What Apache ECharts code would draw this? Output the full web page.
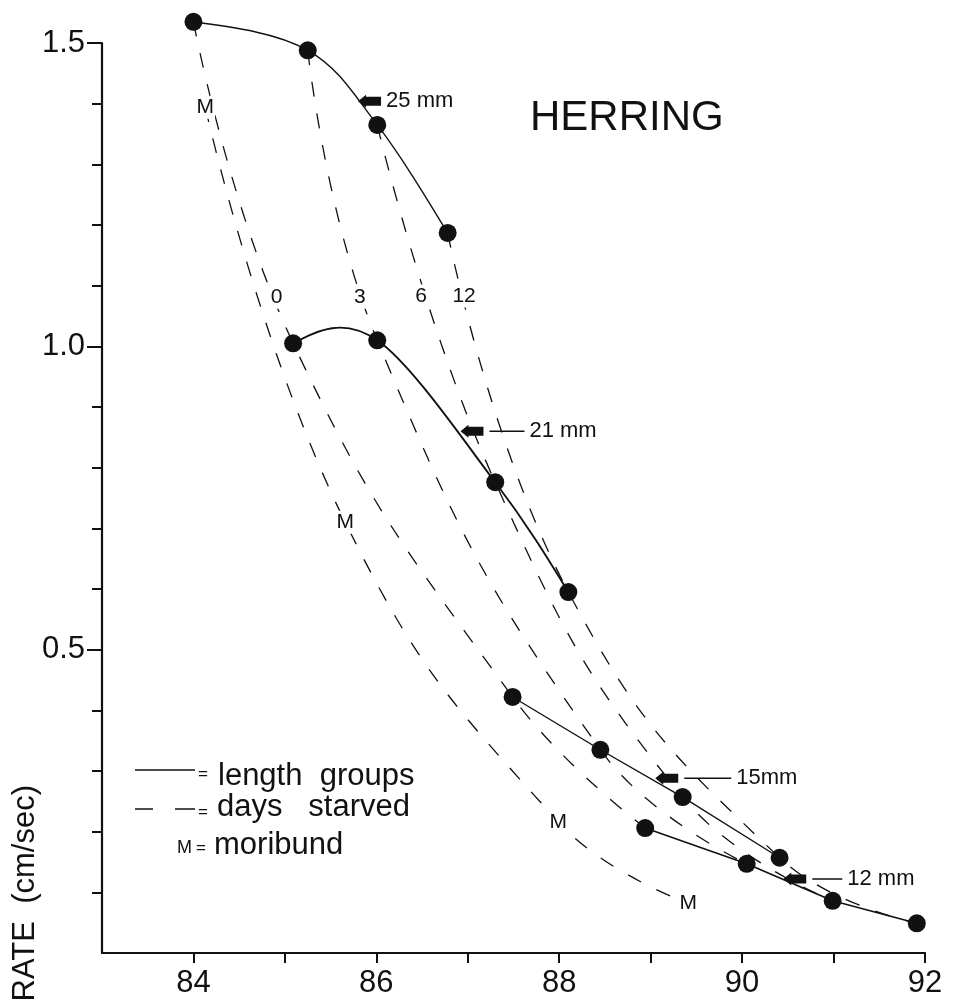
<!DOCTYPE html>
<html>
<head>
<meta charset="utf-8">
<script src="https://cdn.jsdelivr.net/npm/echarts@6/dist/echarts.min.js"></script>
<style>
  html, body { margin: 0; padding: 0; background: #fff; }
  #chart { width: 956px; height: 1002px; }
</style>
</head>
<body>
<div id="chart"></div>
<script>
// Swimming rate of starved herring larvae against water content (%).
// Each length group: points after 0, 3, 6 and 12 days of starvation.
const lengthLabels = ['25 mm', '21 mm', '15mm', '12 mm'];
const dayLabels = ['0', '3', '6', '12'];

const water25 = [84.00, 85.25, 86.01, 86.78];
const rate25  = [1.535, 1.488, 1.365, 1.187];
const water21 = [85.09, 86.01, 87.30, 88.10];
const rate21  = [1.005, 1.010, 0.776, 0.595];
const water15 = [87.49, 88.45, 89.35, 90.41];
const rate15  = [0.422, 0.335, 0.257, 0.157];
const water12 = [88.94, 90.05, 90.99, 91.91];
const rate12  = [0.206, 0.147, 0.086, 0.049];

// moribund fish of each length group (25, 21, 15, 12 mm)
const waterM = [84.13, 85.66, 87.99, 89.41];
const rateM  = [1.394, 0.710, 0.216, 0.082];

// where the length-group arrows point, and where the day numbers sit
const arrowWater = [85.80, 86.92, 89.05, 90.45];
const arrowRate  = [1.404, 0.860, 0.288, 0.122];
const dayTagWater = [84.91, 85.82, 86.49, 86.96];
const dayTagRate  = [1.081, 1.081, 1.083, 1.083];

const xTicks = [84, 85, 86, 87, 88, 89, 90, 91, 92];
const xTickLabels = [84, 86, 88, 90, 92];
const yTickLabels = [0.5, 1.0, 1.5];

const FONT = "'Liberation Sans', Arial, sans-serif";
const INK = '#111';

const groups = [
  [water25, rate25], [water21, rate21], [water15, rate15], [water12, rate12]
];
const zip = (xs, ys) => xs.map((x, i) => [x, ys[i]]);

// cubic spline (Catmull-Rom inside, natural ends) through pixel points
function splineSegments(p, curved) {
  const n = p.length;
  if (!curved || n < 3) {
    return p.slice(1).map((q, i) => [p[i], p[i], q, q]);
  }
  const m = p.map(() => [0, 0]);
  for (let i = 1; i < n - 1; i++) {
    m[i] = [(p[i + 1][0] - p[i - 1][0]) / 2, (p[i + 1][1] - p[i - 1][1]) / 2];
  }
  m[0] = [(3 * (p[1][0] - p[0][0]) - m[1][0]) / 2, (3 * (p[1][1] - p[0][1]) - m[1][1]) / 2];
  const a = n - 1, b = n - 2;
  m[a] = [(3 * (p[a][0] - p[b][0]) - m[b][0]) / 2, (3 * (p[a][1] - p[b][1]) - m[b][1]) / 2];
  const segs = [];
  for (let i = 0; i < n - 1; i++) {
    segs.push([
      p[i],
      [p[i][0] + m[i][0] / 3, p[i][1] + m[i][1] / 3],
      [p[i + 1][0] - m[i + 1][0] / 3, p[i + 1][1] - m[i + 1][1] / 3],
      p[i + 1]
    ]);
  }
  return segs;
}

const series = [];

// dashed curves: one per starvation period, across length groups
dayLabels.forEach((d, i) => {
  series.push({
    type: 'line', name: 'day ' + d, clip: false, smooth: 0.45,
    symbol: 'none', silent: true, z: 2,
    lineStyle: { color: INK, width: 1.3, type: [15, 17] },
    data: groups.map(g => [g[0][i], g[1][i]])
  });
});

// moribund curve
series.push({
  type: 'line', name: 'moribund', clip: false, smooth: 0.45,
  symbol: 'none', silent: true, z: 2,
  lineStyle: { color: INK, width: 1.3, type: [15, 17] },
  data: zip(waterM, rateM)
});
series.push({
  type: 'scatter', name: 'M', clip: false, symbolSize: 1, z: 4,
  itemStyle: { color: 'rgba(0,0,0,0)', opacity: 1 },
  label: {
    show: true, position: 'inside', formatter: 'M', color: INK, opacity: 1,
    fontFamily: FONT, fontSize: 21, backgroundColor: '#fff', padding: [1, 1]
  },
  data: zip(waterM, rateM)
});

// day numbers
series.push({
  type: 'scatter', name: 'days', clip: false, symbolSize: 1, z: 4,
  itemStyle: { color: 'rgba(0,0,0,0)', opacity: 1 },
  label: {
    show: true, position: 'inside', formatter: '{b}', color: INK, opacity: 1,
    fontFamily: FONT, fontSize: 21, backgroundColor: '#fff', padding: [1, 2]
  },
  data: dayLabels.map((d, i) => ({ name: d, value: [dayTagWater[i], dayTagRate[i]] }))
});

// solid curves (one per length group) and their points
const curved = [true, true, false, false];
const widths = [1.4, 1.9, 1.4, 1.6];
groups.forEach((g, gi) => {
  series.push({
    type: 'custom', name: lengthLabels[gi] + ' curve', clip: false, silent: true, z: 4,
    encode: { x: 0, y: 1 },
    data: zip(g[0], g[1]),
    renderItem: (params, api) => {
      if (params.dataIndex !== 0) return null;
      const px = g[0].map((x, i) => api.coord([x, g[1][i]]));
      return {
        type: 'group',
        children: splineSegments(px, curved[gi]).map(s => ({
          type: 'bezierCurve',
          shape: {
            x1: s[0][0], y1: s[0][1], cpx1: s[1][0], cpy1: s[1][1],
            cpx2: s[2][0], cpy2: s[2][1], x2: s[3][0], y2: s[3][1]
          },
          style: { stroke: INK, lineWidth: widths[gi], fill: null }
        }))
      };
    }
  });
  series.push({
    type: 'scatter', name: lengthLabels[gi], clip: false,
    symbol: 'circle', symbolSize: 18, z: 5,
    itemStyle: { color: INK, opacity: 1 },
    data: zip(g[0], g[1])
  });
});

// block arrows with leader lines pointing at each length group
const leader = [0, 35, 47, 30];
function arrowPath(len) {
  let p = 'M0,6.5 L8,0 L8,2 L23,2 L23,11 L8,11 L8,13 Z';
  if (len > 0) p += ' M29,5.8 L' + (29 + len) + ',5.8 L' + (29 + len) + ',7.2 L29,7.2 Z';
  return 'path://' + p;
}
series.push({
  type: 'scatter', name: 'arrows', clip: false, z: 6,
  itemStyle: { color: INK, opacity: 1 },
  label: {
    show: true, position: 'right', distance: 5, formatter: '{b}', opacity: 1,
    color: INK, fontFamily: FONT, fontSize: 22
  },
  data: lengthLabels.map((name, i) => {
    const w = leader[i] > 0 ? 29 + leader[i] : 23;
    return {
      name: name,
      value: [arrowWater[i], arrowRate[i]],
      symbol: arrowPath(leader[i]),
      symbolSize: [w, 13],
      symbolKeepAspect: false,
      symbolOffset: [w / 2, 0]
    };
  })
});

const chart = echarts.init(document.getElementById('chart'), null, { renderer: 'canvas' });

const legendFont = '31px ' + FONT;
const smallFont = '17px ' + FONT;
function txt(x, y, text, font, extra) {
  return Object.assign({
    type: 'text', x: x, y: y,
    style: {
      text: text, font: font, fill: INK,
      textAlign: 'left', textVerticalAlign: 'middle', align: 'left', verticalAlign: 'middle'
    }
  }, extra || {});
}

chart.setOption({
  animation: false,
  backgroundColor: '#fff',
  grid: { left: 102, right: 31, top: 43, bottom: 49 },
  xAxis: {
    type: 'value', min: 83, max: 92, interval: 1,
    axisLine: { lineStyle: { color: INK, width: 2.2 } },
    axisTick: { length: 10, customValues: xTicks, lineStyle: { color: INK, width: 2 } },
    splitLine: { show: false },
    axisLabel: {
      margin: 15, color: INK, fontFamily: FONT, fontSize: 31,
      customValues: xTickLabels,
      formatter: v => String(v)
    }
  },
  yAxis: {
    type: 'value', min: 0, max: 1.5, interval: 0.5,
    axisLine: { lineStyle: { color: INK, width: 2.2 } },
    axisTick: { length: 15, customValues: yTickLabels, lineStyle: { color: INK, width: 2 } },
    minorTick: { show: true, splitNumber: 5, length: 10, lineStyle: { color: INK, width: 2 } },
    splitLine: { show: false },
    minorSplitLine: { show: false },
    axisLabel: {
      margin: 17, color: INK, fontFamily: FONT, fontSize: 31,
      customValues: yTickLabels,
      formatter: v => v.toFixed(1)
    }
  },
  graphic: [
    txt(530, 118, 'HERRING', '42px ' + FONT),
    // axis title, reading upwards
    {
      type: 'text', x: 25, y: 785, rotation: Math.PI / 2,
      style: {
        text: 'RATE  (cm/sec)', font: '31px ' + FONT, fill: INK,
        textAlign: 'right', textVerticalAlign: 'middle', align: 'right', verticalAlign: 'middle'
      }
    },
    // key
    { type: 'line', shape: { x1: 135, y1: 770, x2: 195, y2: 770 }, style: { stroke: INK, lineWidth: 1.5 } },
    txt(198, 774, '=', smallFont),
    txt(218, 776, 'length  groups', legendFont),
    { type: 'line', shape: { x1: 135, y1: 809, x2: 153, y2: 809 }, style: { stroke: INK, lineWidth: 1.5 } },
    { type: 'line', shape: { x1: 175, y1: 809, x2: 195, y2: 809 }, style: { stroke: INK, lineWidth: 1.5 } },
    txt(198, 812, '=', smallFont),
    txt(217, 807, 'days   starved', legendFont),
    txt(177, 848, 'M', '18px ' + FONT),
    txt(196, 848, '=', smallFont),
    txt(214, 845, 'moribund', legendFont)
  ],
  series: series
});
</script>
</body>
</html>
